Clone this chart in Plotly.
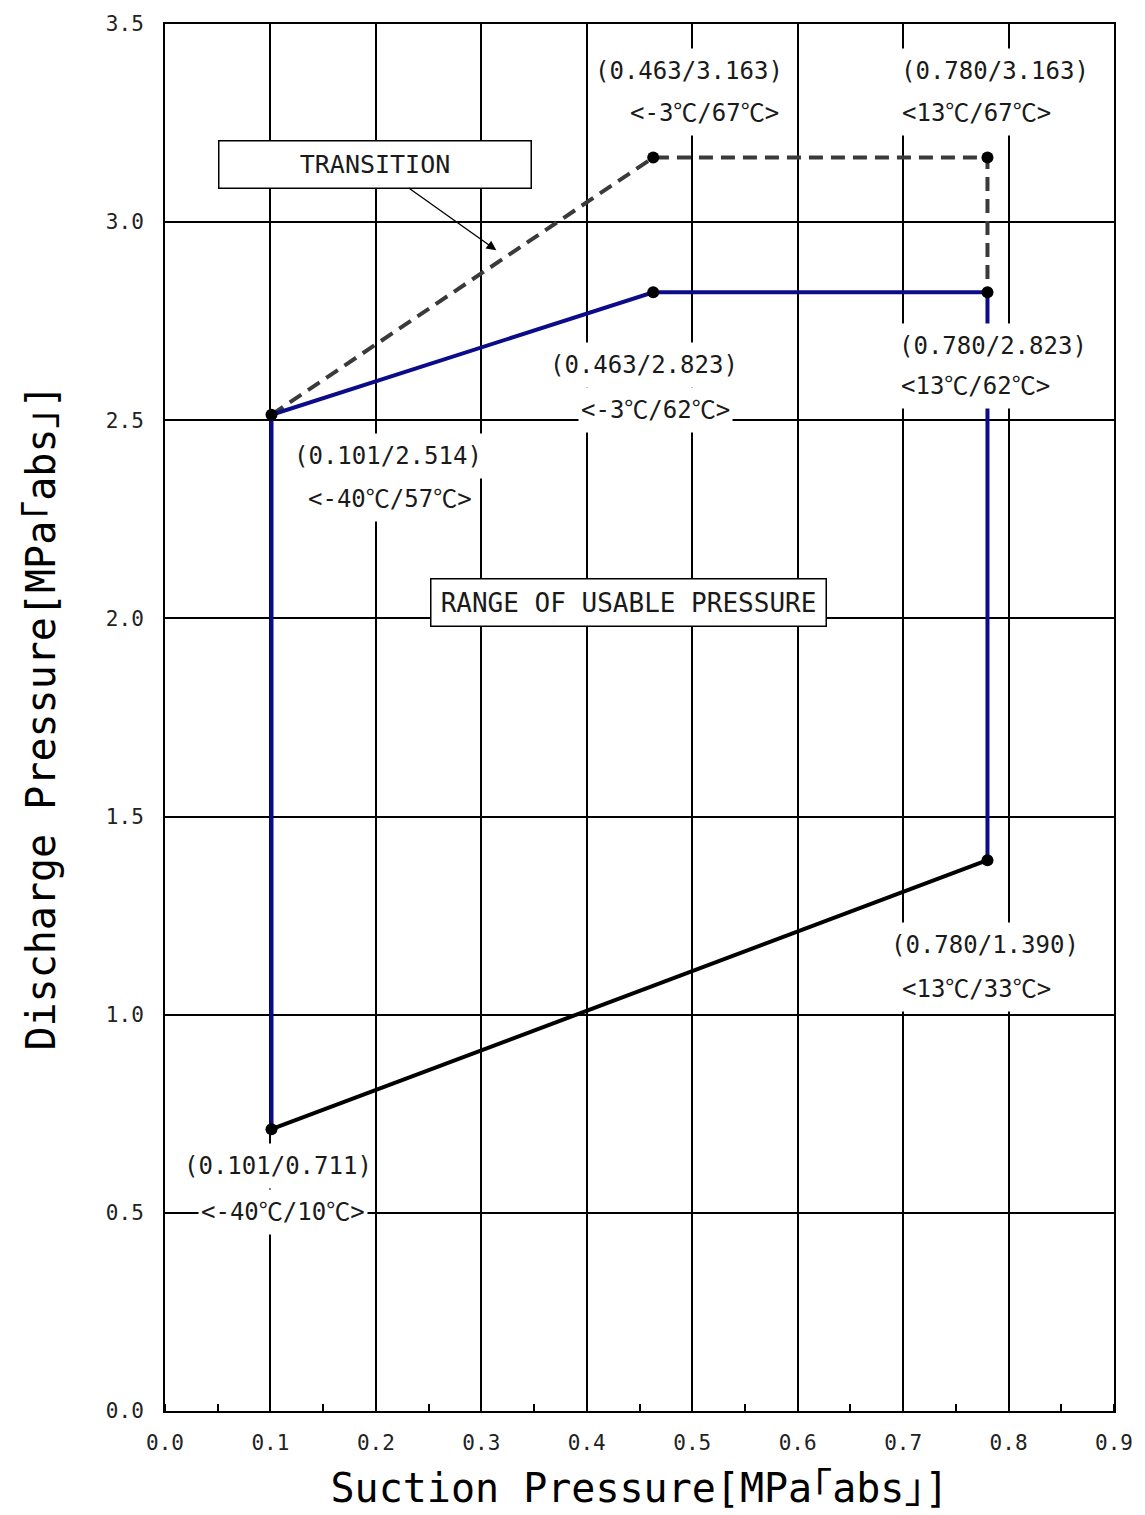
import plotly.graph_objects as go

# ---------------- data ----------------
usable_x = [0.101, 0.101, 0.463, 0.780, 0.780]
usable_y = [0.711, 2.514, 2.823, 2.823, 1.390]

lower_x = [0.101, 0.780]
lower_y = [0.711, 1.390]

transition_x = [0.101, 0.463, 0.780, 0.780]
transition_y = [2.514, 3.163, 3.163, 2.823]

point_x = [0.463, 0.780, 0.463, 0.780, 0.101, 0.780, 0.101]
point_y = [3.163, 3.163, 2.823, 2.823, 2.514, 1.390, 0.711]
point_line1 = ["(0.463/3.163)", "(0.780/3.163)", "(0.463/2.823)", "(0.780/2.823)",
               "(0.101/2.514)", "(0.780/1.390)", "(0.101/0.711)"]
point_line2 = ["<-3℃/67℃>", "<13℃/67℃>", "<-3℃/62℃>", "<13℃/62℃>",
               "<-40℃/57℃>", "<13℃/33℃>", "<-40℃/10℃>"]
# pixel offsets (x, y-up) of the two label lines relative to each point
line1_shift = [(36, 87), (8, 87), (-9, -73), (6, -54), (116, -41), (-2, -85), (6, -37)]
line2_shift = [(51, 45), (-11, 45), (2, -118), (-12, -94), (118, -84), (-11, -129), (11, -83)]

x_ticks = [0.0, 0.1, 0.2, 0.3, 0.4, 0.5, 0.6, 0.7, 0.8, 0.9]
y_ticks = [0.0, 0.5, 1.0, 1.5, 2.0, 2.5, 3.0, 3.5]

FONT = "DejaVu Sans Mono, Noto Sans CJK JP, monospace"
BLUE = "#0c0c8a"
GREY = "#3a3a3a"

fig = go.Figure()

fig.add_trace(go.Scatter(x=transition_x, y=transition_y, mode="lines",
                         line=dict(color=GREY, width=4, dash="14px,8px"),
                         showlegend=False, hoverinfo="skip"))
fig.add_trace(go.Scatter(x=usable_x, y=usable_y, mode="lines",
                         line=dict(color=BLUE, width=4),
                         showlegend=False, hoverinfo="skip"))
fig.add_trace(go.Scatter(x=lower_x, y=lower_y, mode="lines",
                         line=dict(color="black", width=4),
                         showlegend=False, hoverinfo="skip"))
fig.add_trace(go.Scatter(x=point_x, y=point_y, mode="markers",
                         marker=dict(color="black", size=12),
                         showlegend=False, hoverinfo="skip"))

annotations = []
for i in range(len(point_x)):
    for txt, (sx, sy) in ((point_line1[i], line1_shift[i]), (point_line2[i], line2_shift[i])):
        annotations.append(dict(
            x=point_x[i], y=point_y[i], xref="x", yref="y",
            text=txt, showarrow=False, xanchor="center", yanchor="middle",
            xshift=sx, yshift=sy, height=40,
            font=dict(family=FONT, size=24, color="#1a1a1a"),
            bgcolor="white", borderpad=2,
        ))

# TRANSITION box with arrow
annotations.append(dict(
    x=0.3142, y=2.929, xref="x", yref="y",
    text="TRANSITION", showarrow=True, ax=-121, ay=-86, axref="pixel", ayref="pixel",
    arrowhead=2, arrowsize=1.5, arrowwidth=1.3, arrowcolor="black",
    font=dict(family=FONT, size=25, color="#1a1a1a"),
    bgcolor="white", bordercolor="black", borderwidth=1.5, borderpad=3,
    width=305, height=40,
))
# RANGE OF USABLE PRESSURE box
annotations.append(dict(
    x=0.44, y=2.04, xref="x", yref="y",
    text="RANGE OF USABLE PRESSURE", showarrow=False,
    xanchor="center", yanchor="middle",
    font=dict(family=FONT, size=26, color="#1a1a1a"),
    bgcolor="white", bordercolor="black", borderwidth=1.5, borderpad=3,
    width=388, height=40,
))

fig.update_layout(
    width=1145, height=1515,
    margin=dict(l=165, r=29, t=22, b=103),
    paper_bgcolor="white", plot_bgcolor="white",
    annotations=annotations,
    showlegend=False,
)

fig.update_xaxes(
    range=[0, 0.9], tickvals=x_ticks, ticktext=[f"{v:.1f}" for v in x_ticks],
    showgrid=True, gridcolor="black", gridwidth=1.5,
    showline=True, linecolor="black", linewidth=2, mirror=True,
    ticks="", zeroline=False,
    minor=dict(dtick=0.05, tick0=0, ticks="inside", ticklen=7, tickcolor="black",
               tickwidth=1.5, showgrid=False),
    tickfont=dict(family=FONT, size=21, color="#222"),
    ticklabelstandoff=12,
    title=dict(text="Suction Pressure[MPa｢abs｣]",
               font=dict(family=FONT, size=40, color="black"), standoff=20),
)
fig.update_yaxes(
    range=[0, 3.5], tickvals=y_ticks, ticktext=[f"{v:.1f}" for v in y_ticks],
    showgrid=True, gridcolor="black", gridwidth=1.5,
    showline=True, linecolor="black", linewidth=2, mirror=True,
    ticks="", zeroline=False,
    tickfont=dict(family=FONT, size=21, color="#222"),
    ticklabelstandoff=15,
    title=dict(text="Discharge Pressure[MPa｢abs｣]",
               font=dict(family=FONT, size=40, color="black"), standoff=38),
)

fig.write_html("out.html", config={"displayModeBar": False},
               post_script="document.body.style.margin='0px';document.body.style.padding='0px';")
